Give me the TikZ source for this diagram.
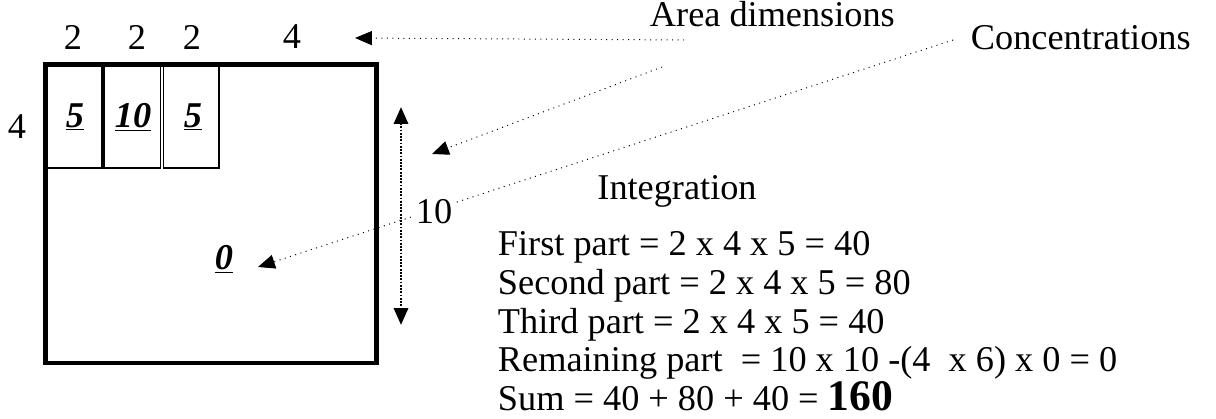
\documentclass[tikz,border=0pt]{standalone}
\usepackage{fontspec}
\setmainfont{Liberation Serif}
\usetikzlibrary{arrows.meta}
\newcommand{\cellval}[1]{\underline{\textbf{\textit{#1}}}}
\begin{document}
\begin{tikzpicture}[x=0.025cm,y=-0.025cm,>={Triangle[length=12pt,width=10pt]},
  font=\fontsize{25.8}{30}\selectfont,
  pointer/.style={->,line width=0.7pt,dash pattern=on 0.7pt off 3.2pt},
  spanline/.style={<->,line width=2pt,dash pattern=on 1.3pt off 1pt}]
  \useasboundingbox (0,0) rectangle (1216,419);
  % area and the three parts
  \draw[line width=3.5pt] (45.5,64.5) rectangle (376.5,363);
  \draw[line width=1.4pt] (45.5,64.5) rectangle (103,168);
  \draw[line width=1.4pt] (104,64.5) rectangle (160.5,168);
  \draw[line width=1.4pt] (163.5,64.5) rectangle (219,168);
  \draw[line width=3.5pt] (103,64.5) -- (103,168);
  % dimensions
  \node (wa) at (73,37) {2};
  \node (wb) at (137,37) {2};
  \node (wc) at (192,37) {2};
  \node (wd) at (292,37) {4};
  \node (hl) at (17,127) {4};
  % concentrations
  \node (ca) at (75,117) {\cellval{5}};
  \node (cb) at (133,117) {\cellval{10}};
  \node (cc) at (193,117) {\cellval{5}};
  \node (cz) at (224,259) {\cellval{0}};
  % labels
  \node[anchor=base west] (area) at (645,27) {Area dimensions};
  \node[anchor=base west] (conc) at (966,50) {Concentrations};
  \node[anchor=base] (integ) at (677,200) {Integration};
  \node[anchor=base west] (la) at (493,256) {First part = 2 x 4 x 5 = 40};
  \node[anchor=base west] (lb) at (493,295) {Second part = 2 x 4 x 5 = 80};
  \node[anchor=base west] (lc) at (493,333) {Third part = 2 x 4 x 5 = 40};
  \node[anchor=base west] (ld) at (493,371) {Remaining part\ \ = 10 x 10 -(4\ \ x 6) x 0 = 0};
  \node[anchor=base west] (le) at (493,410) {Sum = 40 + 80 + 40 = \textbf{\fontsize{31}{31}\selectfont 160}};
  % pointers
  \coordinate (areaa) at (684,40);
  \coordinate (areab) at (662,67);
  \coordinate (conca) at (953,40);
  \coordinate (widthtip) at (355,38);
  \coordinate (heighttip) at (432,154);
  \coordinate (zerotip) at (258,267);
  \coordinate (vtop) at (401,107);
  \coordinate (vbot) at (401,325);
  \draw[pointer] (areaa) -- (widthtip);
  \draw[pointer] (areab) -- (heighttip);
  \draw[pointer] (conca) -- (zerotip);
  \draw[spanline] (vtop) -- (vbot);
  \node[fill=white,inner sep=1pt] (hr) at (434,212) {10};
\end{tikzpicture}
\end{document}
